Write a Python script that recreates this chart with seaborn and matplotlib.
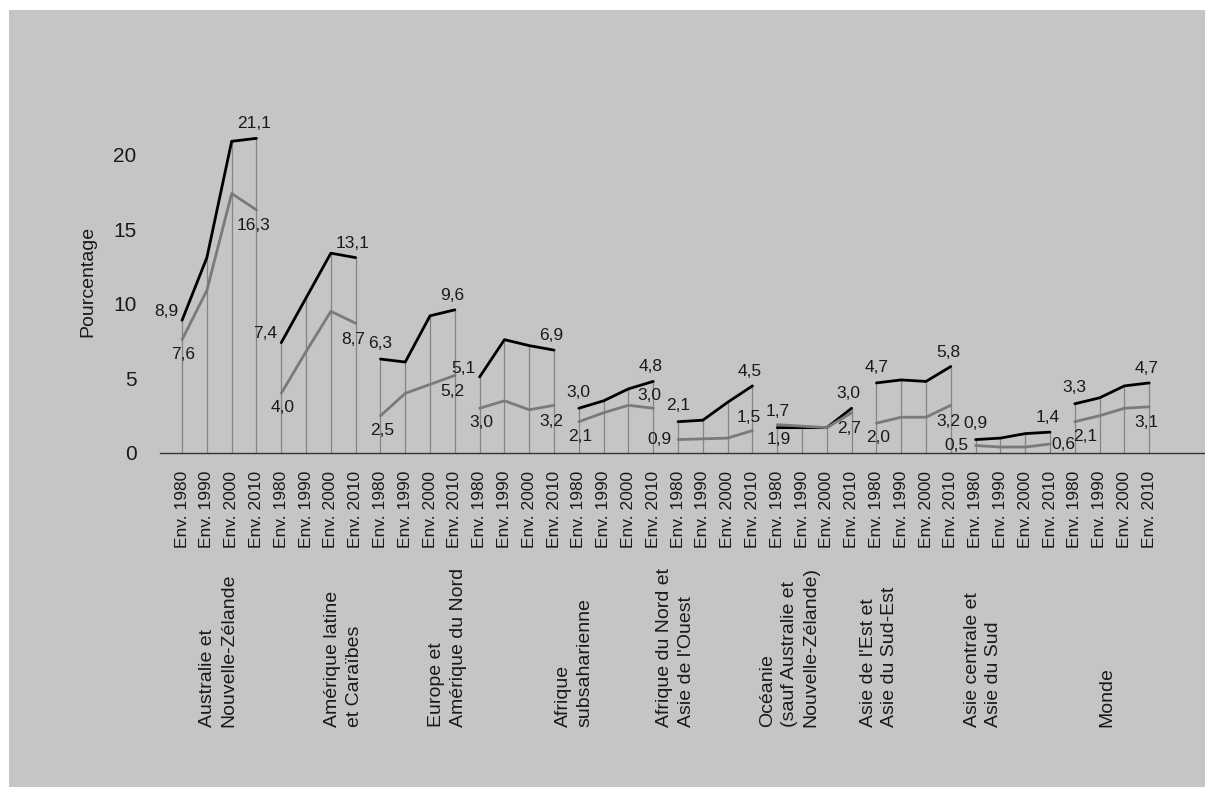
import numpy as np
import pandas as pd
import seaborn as sns
from matplotlib import pyplot as plt
from matplotlib.patches import Rectangle
from matplotlib.transforms import blended_transform_factory

# data (10 blocks of 4 periods each)
periods = ["Env. 1980", "Env. 1990", "Env. 2000", "Env. 2010"]
n_blocks = 10
serie_noire = [
    8.9, 13.1, 20.9, 21.1,
    7.4, 10.4, 13.4, 13.1,
    6.3, 6.1, 9.2, 9.6,
    5.1, 7.6, 7.2, 6.9,
    3.0, 3.5, 4.3, 4.8,
    2.1, 2.2, 3.4, 4.5,
    1.7, 1.7, 1.7, 3.0,
    4.7, 4.9, 4.8, 5.8,
    0.9, 1.0, 1.3, 1.4,
    3.3, 3.7, 4.5, 4.7,
]
serie_grise = [
    7.6, 10.9, 17.4, 16.3,
    4.0, 6.8, 9.5, 8.7,
    2.5, 4.0, 4.6, 5.2,
    3.0, 3.5, 2.9, 3.2,
    2.1, 2.7, 3.2, 3.0,
    0.9, 0.95, 1.0, 1.5,
    1.9, 1.8, 1.7, 2.7,
    2.0, 2.4, 2.4, 3.2,
    0.5, 0.4, 0.4, 0.6,
    2.1, 2.5, 3.0, 3.1,
]
regions = [
    "Australie et\nNouvelle-Zélande",
    "Amérique latine\net Caraïbes",
    "Europe et\nAmérique du Nord",
    "Afrique\nsubsaharienne",
    "Afrique du Nord et\nAsie de l'Ouest",
    "Océanie\n(sauf Australie et\nNouvelle-Zélande)",
    "Asie de l'Est et\nAsie du Sud-Est",
    "Asie centrale et\nAsie du Sud",
    "Monde",
]
# where the region captions sit on the category axis (as in the source)
region_pos = [1.45, 6.5, 10.7, 15.8, 19.9, 24.5, 28.1, 32.3, 37.3]
debut_a_gauche = [0, 1, 3]     # blocks whose first black label sits to the left
fin_grise_dessus = [4, 5]      # blocks whose last grey label sits above the line
debut_grise_droite = [9]       # blocks whose first grey label is nudged right

sns.set_theme(style="white")
plt.rcParams['font.family'] = ['Liberation Sans', 'DejaVu Sans']

rows = []
for i in range(n_blocks):
    for j in range(4):
        k = i * 4 + j
        rows.append({"x": k, "valeur": serie_noire[k], "serie": "noire", "bloc": i})
        rows.append({"x": k, "valeur": serie_grise[k], "serie": "grise", "bloc": i})
df = pd.DataFrame(rows)

fig = plt.figure(figsize=(12.05, 7.87), dpi=100)
fig.patch.set_facecolor("white")
fig.patches.append(Rectangle((9 / 1205, 0), 1, 1 - 10 / 787, transform=fig.transFigure,
                             facecolor="#c6c4c5", edgecolor="none", zorder=-10))
ax = fig.add_axes([160 / 1205, 1 - 453 / 787, 1 - 160 / 1205, (453 - 110) / 787])
ax.set_facecolor("none")

# thin drop lines from each point to zero
top = df.groupby("x")["valeur"].max()
ax.vlines(top.index, 0, top.values, color="#858585", lw=0.9, zorder=1)

sns.lineplot(data=df, x="x", y="valeur", hue="serie", units="bloc", estimator=None,
             palette={"noire": "#000000", "grise": "#7a7a7a"}, lw=2.0,
             legend=False, ax=ax, zorder=3)

fmt = lambda v: f"{v:.1f}".replace(".", ",")
lbl = dict(fontsize=12.5, color="#1a1a1a", textcoords="offset points", zorder=4)
for i in range(n_blocks):
    a, b = i * 4, i * 4 + 3
    # black series: start and end
    if i in debut_a_gauche:
        ax.annotate(fmt(serie_noire[a]), (a, serie_noire[a]), xytext=(-3, 1), ha="right", va="bottom", **lbl)
    else:
        ax.annotate(fmt(serie_noire[a]), (a, serie_noire[a]), xytext=(0, 6), ha="center", va="bottom", **lbl)
    ax.annotate(fmt(serie_noire[b]), (b, serie_noire[b]), xytext=(-2, 5), ha="center", va="bottom", **lbl)
    # grey series: start and end
    va = serie_grise[a]
    if va < 1.2:
        ax.annotate(fmt(va), (a, va), xytext=(-5, 0), ha="right", va="center", **lbl)
    elif i in debut_grise_droite:
        ax.annotate(fmt(va), (a, va), xytext=(-1, -5), ha="left", va="top", **lbl)
    else:
        ax.annotate(fmt(va), (a, va), xytext=(1, -5), ha="center", va="top", **lbl)
    vb = serie_grise[b]
    if vb < 1.2:
        ax.annotate(fmt(vb), (b, vb), xytext=(1, 0), ha="left", va="center", **lbl)
    elif i in fin_grise_dessus:
        ax.annotate(fmt(vb), (b, vb), xytext=(-3, 4), ha="center", va="bottom", **lbl)
    else:
        ax.annotate(fmt(vb), (b, vb), xytext=(-2, -6), ha="center", va="top", **lbl)

ax.set_xlim(-0.89, 41.25)
ax.set_ylim(0, 23)
ax.set_yticks([0, 5, 10, 15, 20])
ax.set_xticks(range(n_blocks * 4))
ax.set_xticklabels(periods * n_blocks, rotation=90, fontsize=12.5, color="#1a1a1a")
ax.tick_params(axis="x", length=0, pad=13)
ax.tick_params(axis="y", length=0, pad=17, labelsize=15, labelcolor="#1a1a1a")
ax.set_xlabel("")
ax.set_ylabel("Pourcentage", fontsize=14, color="#1a1a1a", labelpad=12)
for s in ["top", "right", "left"]:
    ax.spines[s].set_visible(False)
ax.spines["bottom"].set_color("#333333")
ax.spines["bottom"].set_linewidth(1.0)
ax.grid(False)

trans = blended_transform_factory(ax.transData, fig.transFigure)
for xr, name in zip(region_pos, regions):
    ax.text(xr, 1 - 727 / 787, name, transform=trans, rotation=90, ha="center", va="bottom",
            multialignment="left", fontsize=14, color="#1a1a1a", linespacing=1.35)

fig.savefig("out.png", dpi=100, facecolor=fig.get_facecolor())
